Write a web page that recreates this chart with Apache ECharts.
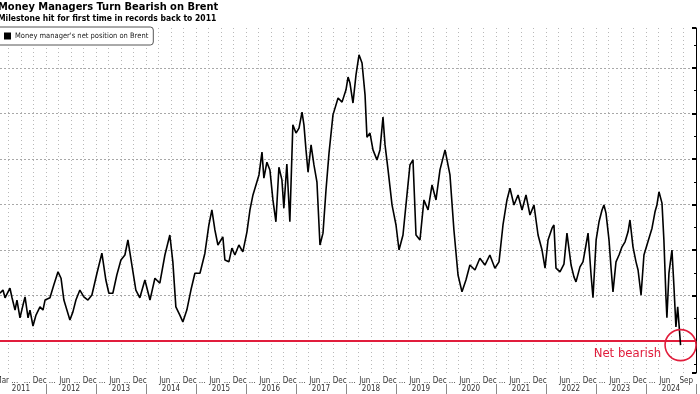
<!DOCTYPE html>
<html><head><meta charset="utf-8">
<script src="https://cdn.jsdelivr.net/npm/echarts@6/dist/echarts.min.js"></script>
<style>html,body{margin:0;padding:0;background:#fff}#c{width:700px;height:394px}</style>
</head><body><div id="c"></div>
<script>
// Readings of ICE Brent managed-money net position (thousand contracts)
const dates = [
'2011-01-30','2011-02-21','2011-03-08','2011-03-30','2011-04-13','2011-04-28','2011-05-20','2011-06-03','2011-06-25','2011-07-17','2011-08-01','2011-08-23','2011-09-06','2011-09-28','2011-10-20','2011-11-18','2011-12-10','2011-12-25',
'2012-01-30','2012-02-27','2012-03-29','2012-04-20','2012-05-11','2012-06-02','2012-06-24','2012-07-16','2012-08-07','2012-09-05','2012-10-04','2012-11-03','2012-12-02',
'2013-01-08','2013-02-13','2013-03-14','2013-04-05','2013-05-04','2013-06-02','2013-07-02','2013-07-31','2013-08-22','2013-09-20','2013-10-19','2013-11-17','2013-12-24',
'2014-01-30','2014-03-07','2014-04-12','2014-05-19','2014-06-24','2014-07-16','2014-08-07','2014-09-05','2014-09-27','2014-10-26','2014-11-25','2014-12-24',
'2015-01-30','2015-03-07','2015-04-05','2015-04-27','2015-05-19','2015-06-10','2015-07-16','2015-07-31','2015-08-29','2015-09-20','2015-10-12','2015-11-10','2015-12-09',
'2016-01-08','2016-01-30','2016-02-21','2016-03-14','2016-04-05','2016-04-27','2016-05-11','2016-06-02','2016-06-24','2016-07-16','2016-08-07','2016-08-29','2016-09-20','2016-10-04','2016-10-26','2016-11-17','2016-12-09',
'2017-01-01','2017-01-23','2017-02-14','2017-02-28','2017-03-15','2017-03-30','2017-04-21','2017-05-12','2017-06-03','2017-06-25','2017-07-17','2017-08-08','2017-08-30','2017-09-28','2017-11-04','2017-12-03',
'2018-01-01','2018-01-16','2018-01-30','2018-02-21','2018-03-15','2018-04-06','2018-04-28','2018-05-20','2018-06-03','2018-06-25','2018-07-17','2018-08-15','2018-09-06','2018-09-28','2018-10-13','2018-11-04','2018-12-03',
'2019-01-01','2019-01-23','2019-02-21','2019-03-22','2019-04-13','2019-05-05','2019-05-27','2019-06-25','2019-07-24','2019-08-23','2019-09-21','2019-10-20','2019-11-18','2019-12-25',
'2020-01-30','2020-02-28','2020-03-29','2020-04-27','2020-05-26','2020-06-24','2020-07-31','2020-09-05','2020-10-12','2020-11-17','2020-12-24',
'2021-01-23','2021-02-21','2021-03-22','2021-04-13','2021-05-12','2021-06-11','2021-07-10','2021-08-08','2021-09-06','2021-10-05','2021-11-04','2021-12-03','2021-12-25',
'2022-01-16','2022-02-14','2022-02-28','2022-03-15','2022-04-13','2022-05-12','2022-06-03','2022-07-03','2022-07-24','2022-08-08','2022-09-06','2022-09-28','2022-10-20','2022-11-04','2022-11-26','2022-12-10',
'2023-01-02','2023-01-23','2023-02-14','2023-02-28','2023-03-15','2023-04-06','2023-04-21','2023-05-05','2023-05-27','2023-06-18','2023-07-10','2023-08-01','2023-08-23','2023-09-06','2023-09-28','2023-10-20','2023-11-04','2023-11-26','2023-12-17',
'2024-01-08','2024-01-30','2024-02-14','2024-03-07','2024-03-21','2024-04-05','2024-04-27','2024-05-11','2024-05-26','2024-06-02','2024-06-17','2024-07-09','2024-07-23','2024-08-07','2024-08-20','2024-09-03','2024-09-10'
];
const netPosition = [
105,112,95,108,116,95,68,90,51,79,97,51,68,33,57,75,68,90,
95,123,152,138,90,68,46,64,90,112,97,90,101,
149,193,134,105,105,145,178,189,222,167,112,95,134,
90,138,127,189,233,174,75,57,42,68,112,149,
149,193,255,288,244,211,229,178,174,204,189,211,196,
240,288,321,343,365,415,358,393,376,310,262,382,354,292,389,262,475,
457,468,503,475,420,371,431,387,349,211,237,332,413,497,534,525,
552,580,567,523,585,629,611,541,448,457,420,398,420,492,431,376,299,
255,200,233,321,387,398,233,222,310,288,343,310,376,420,
365,244,145,108,134,167,156,182,167,189,160,
174,255,310,336,299,321,288,321,277,299,233,200,160,
222,248,255,160,152,169,237,167,141,130,163,174,211,237,145,95,
222,262,288,299,281,222,160,108,174,189,207,218,240,266,207,174,156,101,189,
211,233,248,284,299,328,303,222,97,51,149,200,123,31,75,75,-9
];
const quarterLabels = [
'Mar','...','...','Dec', '...','Jun','...','Dec', '...','Jun','...','Dec', '','Jun','...','Dec',
'...','Jun','...','Dec', '...','Jun','...','Dec', '...','Jun','...','Dec', '...','Jun','...','Dec',
'...','Jun','...','Dec', '...','Jun','...','Dec', '...','Jun','...','Dec', '','Jun','...','Dec',
'...','Jun','...','Dec', '...','Jun','Sep',''
];
const yearLabels = ['2011','2012','2013','2014','2015','2016','2017','2018','2019','2020','2021','2022','2023','2024'];
const seriesName = "Money manager's net position on Brent";

function toYear(s){
  const d = new Date(s + 'T00:00:00Z');
  const y = d.getUTCFullYear();
  const a = Date.UTC(y,0,1), b = Date.UTC(y+1,0,1);
  return y + (d.getTime()-a)/(b-a);
}
const seriesData = dates.map((d,i)=>[toYear(d), netPosition[i]]);
const last = seriesData[seriesData.length-1];
const RED = '#e11d3c';
const FONT = "'DejaVu Sans Condensed','Liberation Sans',sans-serif";

const qData = quarterLabels.map(l => l === 'Sep'
  ? {value:l, textStyle:{padding:[0,0,0,18]}}
  : l);

const chart = echarts.init(document.getElementById('c'), null, {renderer:'canvas'});
chart.setOption({
  animation:false,
  backgroundColor:'#fff',
  textStyle:{fontFamily:FONT},
  title:{
    text:'Money Managers Turn Bearish on Brent',
    subtext:'Milestone hit for first time in records back to 2011',
    left:-2, top:2, itemGap:1, padding:0,
    textStyle:{fontFamily:FONT, fontSize:11, fontWeight:'bold', color:'#000'},
    subtextStyle:{fontFamily:FONT, fontSize:8.5, fontWeight:'bold', color:'#000'}
  },
  legend:{
    data:[seriesName], left:-3, top:27, orient:'horizontal',
    icon:'rect', itemWidth:7, itemHeight:7, itemGap:4,
    padding:[5,5,5,7], borderColor:'#555', borderWidth:1, borderRadius:3,
    backgroundColor:'#fff',
    textStyle:{fontFamily:FONT, fontSize:7.5, color:'#222', padding:[0,0,0,-1]}
  },
  grid:{left:-4, right:4, top:28, bottom:21, containLabel:false, outerBoundsMode:'none'},
  xAxis:[
    {type:'value', min:2011, max:2025, interval:0.25, position:'bottom',
     axisLine:{show:true, lineStyle:{color:'#555', width:1}},
     axisTick:{show:false}, axisLabel:{show:false},
     splitLine:{show:true, lineStyle:{color:'#b8b8b8', type:[1,3], width:1}}},
    {type:'category', data:qData, position:'bottom', boundaryGap:true,
     axisLine:{show:false}, axisTick:{show:false},
     axisLabel:{show:true, interval:0, margin:4, fontSize:8, color:'#333', fontFamily:FONT, hideOverlap:false},
     splitLine:{show:false}},
    {type:'category', data:yearLabels, position:'bottom', offset:11, boundaryGap:true,
     axisLine:{show:false},
     axisTick:{show:true, length:12, lineStyle:{color:'#888'}},
     axisLabel:{show:true, interval:0, margin:1, fontSize:8, color:'#333', fontFamily:FONT},
     splitLine:{show:false}}
  ],
  yAxis:{
    type:'value', position:'right', min:-70.3, max:687.9, splitNumber:7,
    axisLine:{show:true, lineStyle:{color:'#000', width:1}},
    axisTick:{show:true, inside:true, length:4, lineStyle:{color:'#000', width:2}},
    minorTick:{show:true, splitNumber:2, length:2, lineStyle:{color:'#000'}},
    axisLabel:{show:false},
    splitLine:{show:true, showMinLine:false, showMaxLine:false, lineStyle:{color:'#a8a8a8', type:[2,2], width:1}}
  },
  series:[{
    name:seriesName, type:'line', xAxisIndex:0, yAxisIndex:0,
    data:seriesData, showSymbol:false, symbol:'none',
    lineStyle:{color:'#000', width:1.6}, itemStyle:{color:'#000'},
    z:3,
    markLine:{silent:true, symbol:'none', z:2,
      lineStyle:{color:RED, width:2, type:'solid'}, label:{show:false},
      data:[{yAxis:0}]},
    markPoint:{silent:true, symbol:'circle', symbolSize:31,
      itemStyle:{color:'rgba(0,0,0,0)', borderColor:RED, borderWidth:1.6},
      label:{show:true, formatter:'Net bearish', position:'left', distance:3, offset:[0,9],
        color:RED, fontSize:13, fontFamily:FONT},
      data:[{coord:[last[0], last[1]]}]}
  }]
});
</script></body></html>
